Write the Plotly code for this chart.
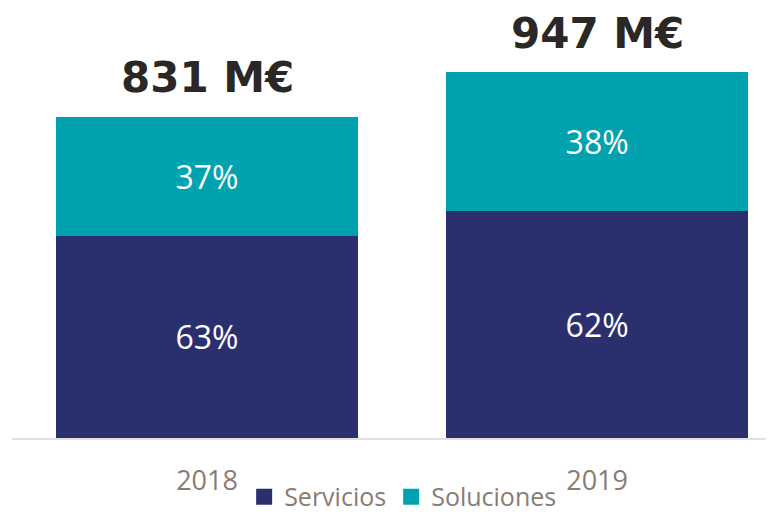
import plotly.graph_objects as go

years = ["2018", "2019"]
totals = [831, 947]            # M€
servicios_pct = [63, 62]
soluciones_pct = [37, 38]

NAVY = "#2A306E"
TEAL = "#00A2B0"

servicios = [t * p / 100 for t, p in zip(totals, servicios_pct)]
soluciones = [t * p / 100 for t, p in zip(totals, soluciones_pct)]

fig = go.Figure()
for name, vals, pcts, col in [("Servicios", servicios, servicios_pct, NAVY),
                              ("Soluciones", soluciones, soluciones_pct, TEAL)]:
    fig.add_trace(go.Bar(
        x=years, y=vals, name=name, showlegend=False,
        marker=dict(color=col, line=dict(width=0)),
        text=[f"{p}%" for p in pcts],
        textposition="inside", insidetextanchor="middle",
        textfont=dict(family="Open Sans", size=32, color="white"),
        width=0.774, hoverinfo="skip",
    ))
    # legend entry with a bigger square swatch
    fig.add_trace(go.Scatter(
        x=[None], y=[None], name=name, mode="markers",
        marker=dict(symbol="square", size=18, color=col),
    ))

# total labels above each bar (category index positions)
for i, tot in enumerate(totals):
    fig.add_annotation(
        x=i, y=tot, text=f"<b>{tot} M€</b>",
        showarrow=False, yanchor="middle", yshift=39,
        font=dict(family="DejaVu Sans", size=42, color="#2B2724"),
    )

fig.update_layout(
    width=774, height=514,
    barmode="stack",
    plot_bgcolor="white", paper_bgcolor="white",
    margin=dict(l=4, r=0, t=0, b=84, autoexpand=False),
    xaxis=dict(
        type="category", range=[-0.5, 1.474],
        showline=True, linecolor="#E3DFDB", linewidth=2,
        showgrid=False, ticks="", ticklabelstandoff=18,
        tickfont=dict(family="Open Sans", size=27, color="#8A7B73"),
    ),
    yaxis=dict(range=[0, 1113], visible=False),
    legend=dict(
        orientation="h", x=0.508, xanchor="center", y=-0.137, yanchor="middle",
        font=dict(family="Open Sans", size=25, color="#8A7B73"),
        itemclick=False, traceorder="normal", itemsizing="trace",
    ),
    showlegend=True,
)

fig.write_html("out.html")
